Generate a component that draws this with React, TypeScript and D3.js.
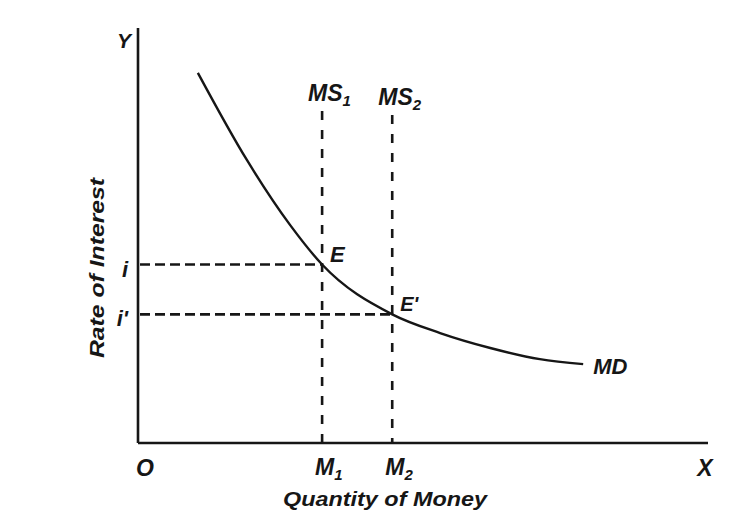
import * as d3 from 'd3';

// Money demand curve (quantity, rate)
const mdQuantity = [10.5, 19.1, 26.7, 32.3, 44.6, 53.0, 61.8, 70.5, 78.1];
const mdRate = [89.2, 68.2, 52.5, 43.0, 31.0, 26.5, 22.9, 20.2, 19.0];

// Money supply levels and the matching interest rates
const supplyLevels = [32.3, 44.6];
const supplyLabels = ['MS', 'MS'];
const supplySubs = ['1', '2'];
const quantityLabels = ['M', 'M'];
const equilibriumRates = [43.0, 31.0];
const rateLabels = ['i', "i'"];
const pointLabels = ['E', "E'"];

const width = 729;
const height = 522;
const font = '"Liberation Sans", Arial, sans-serif';
const ink = '#161616';

export default function App() {
  const x = d3.scaleLinear().domain([0, 100]).range([138, 708]);
  const y = d3.scaleLinear().domain([0, 100]).range([443, 28]);

  const pts: [number, number][] = mdQuantity.map((q, i) => [q, mdRate[i]]);
  const line = d3
    .line<[number, number]>()
    .x((d) => x(d[0]))
    .y((d) => y(d[1]))
    .curve(d3.curveMonotoneX);

  const textStyle = {
    fontFamily: font,
    fontStyle: 'italic',
    fontWeight: 700,
    fill: ink,
  } as const;

  const supplyTop = [101, 105];

  return (
    <svg
      width={width}
      height={height}
      style={{ position: 'absolute', left: 0, top: 0, background: '#fff' }}
    >
      {/* axes */}
      <line x1={x(0)} y1={y(0)} x2={x(0)} y2={y(100)} stroke={ink} strokeWidth={2.6} />
      <line x1={x(0)} y1={y(0)} x2={x(100)} y2={y(0)} stroke={ink} strokeWidth={2.6} />

      {/* horizontal dashed guides */}
      {equilibriumRates.map((r, i) => (
        <line
          key={'h' + i}
          x1={x(0) + 2}
          x2={x(supplyLevels[i])}
          y1={y(r)}
          y2={y(r)}
          stroke={ink}
          strokeWidth={2.6}
          strokeDasharray="10 5"
        />
      ))}

      {/* vertical money supply lines */}
      {supplyLevels.map((s, i) => (
        <line
          key={'v' + i}
          x1={x(s)}
          x2={x(s)}
          y1={supplyTop[i] + 10}
          y2={y(0)}
          stroke={ink}
          strokeWidth={2.6}
          strokeDasharray="9 10"
        />
      ))}

      {/* money demand curve */}
      <path d={line(pts) ?? ''} fill="none" stroke={ink} strokeWidth={2.4} />

      {/* labels */}
      <text x={124} y={48} textAnchor="middle" fontSize={21} style={textStyle}>
        Y
      </text>
      <text x={705} y={476} textAnchor="middle" fontSize={23} style={textStyle}>
        X
      </text>
      <text x={145} y={476} textAnchor="middle" fontSize={23} style={textStyle}>
        O
      </text>

      {supplyLevels.map((s, i) => (
        <text key={'ms' + i} x={x(s) - 14} y={supplyTop[i]} fontSize={23} style={textStyle}>
          {supplyLabels[i]}
          <tspan fontSize={15} dy={5}>
            {supplySubs[i]}
          </tspan>
        </text>
      ))}

      {supplyLevels.map((s, i) => (
        <text key={'m' + i} x={x(s) - 7} y={475} fontSize={23} style={textStyle}>
          {quantityLabels[i]}
          <tspan fontSize={15} dy={5}>
            {supplySubs[i]}
          </tspan>
        </text>
      ))}

      {equilibriumRates.map((r, i) => (
        <text key={'r' + i} x={128} y={y(r) + 12} textAnchor="end" fontSize={22} style={textStyle}>
          {rateLabels[i]}
        </text>
      ))}

      {supplyLevels.map((s, i) => (
        <text
          key={'e' + i}
          x={x(s) + 8}
          y={y(equilibriumRates[i]) - 3}
          fontSize={i === 0 ? 22 : 20}
          style={textStyle}
        >
          {pointLabels[i]}
        </text>
      ))}

      <text
        x={x(mdQuantity[mdQuantity.length - 1]) + 10}
        y={y(mdRate[mdRate.length - 1]) + 10}
        fontSize={22}
        style={textStyle}
      >
        MD
      </text>

      <text
        x={385}
        y={506}
        textAnchor="middle"
        fontSize={21}
        textLength={204}
        lengthAdjust="spacingAndGlyphs"
        style={textStyle}
      >
        Quantity of Money
      </text>
      <text
        transform="translate(104, 268) rotate(-90)"
        textAnchor="middle"
        fontSize={21}
        textLength={180}
        lengthAdjust="spacingAndGlyphs"
        style={textStyle}
      >
        Rate of Interest
      </text>
    </svg>
  );
}
